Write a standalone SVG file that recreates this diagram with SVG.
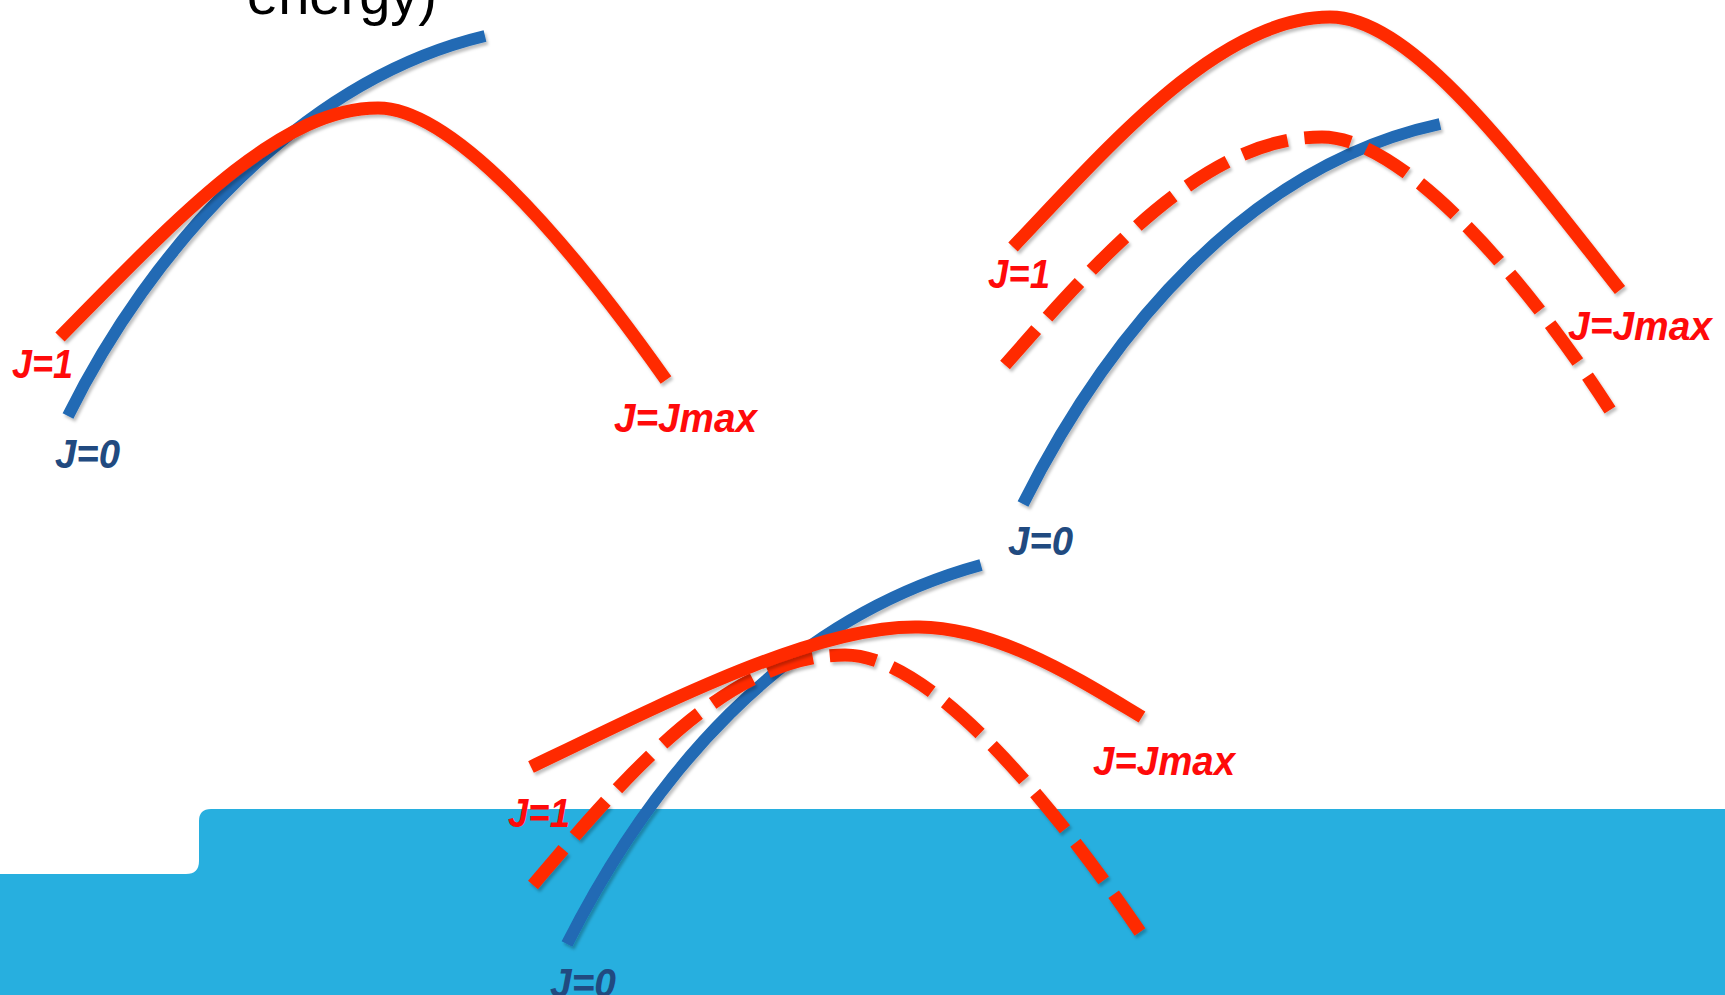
<svg xmlns="http://www.w3.org/2000/svg" width="1725" height="995" viewBox="0 0 1725 995">
<defs>
<filter id="sh" x="-10%" y="-10%" width="120%" height="120%">
<feDropShadow dx="2" dy="3" stdDeviation="1.5" flood-color="#000" flood-opacity="0.25"/>
</filter>
<style>
.blue{fill:none;stroke:#206AB4;stroke-width:12;stroke-linecap:butt;filter:url(#sh)}
.red{fill:none;stroke:#FF2A00;stroke-width:13;stroke-linecap:butt;filter:url(#sh)}
.dash{stroke-dasharray:47 17}
.lbl{font-family:"Liberation Sans",Arial,sans-serif;font-weight:bold;font-style:italic;font-size:40px}
.r{fill:#FF0A0A}
.b{fill:#214A80}
</style>
</defs>
<rect width="1725" height="995" fill="#FFFFFF"/>
<path id="band" d="M0,874 H186 Q199,874 199,861 V821 Q199,809 211,809 H1725 V995 H0 Z" fill="#27AFDF"/>
<text id="title" x="247" y="14" font-family="Liberation Sans,Arial,sans-serif" font-size="56" fill="#000" textLength="190" lengthAdjust="spacingAndGlyphs">energy)</text>
<g id="curves">
<g id="panel-top-left">
<path class="blue" d="M68,416 C150,250 300,80 485,36"/>
<path class="red" d="M60,337 C180,215 280,108 378,108 C450,108 560,230 666,380"/>
</g>
<g id="panel-top-right">
<path class="blue" d="M1023,504 C1110,330 1250,165 1440,124"/>
<path class="red dash" d="M1005,365 C1110,245 1210,137 1322,137 C1400,137 1520,270 1610,410"/>
<path class="red" d="M1013,247 C1110,145 1220,17 1330,17 C1410,17 1510,150 1620,290"/>
</g>
<g id="panel-bottom">
<path class="blue" d="M567,944 C650,780 780,620 981,565"/>
<path class="red dash" d="M533,885 C630,770 730,655 845,655 C930,655 1050,800 1140,932"/>
<path class="red" d="M531,767 C680,695 820,625 919,627 C1000,628 1080,680 1142,717"/>
</g>
</g>
<g id="labels-top-left">
<text class="lbl r" x="12" y="378" textLength="61" lengthAdjust="spacingAndGlyphs">J=1</text>
<text class="lbl b" x="55" y="468" textLength="65" lengthAdjust="spacingAndGlyphs">J=0</text>
<text class="lbl r" x="614" y="432" textLength="143" lengthAdjust="spacingAndGlyphs">J=Jmax</text>
</g>
<g id="labels-top-right">
<text class="lbl r" x="988" y="288" textLength="62" lengthAdjust="spacingAndGlyphs">J=1</text>
<text class="lbl r" x="1568" y="340" textLength="144" lengthAdjust="spacingAndGlyphs">J=Jmax</text>
<text class="lbl b" x="1008" y="555" textLength="65" lengthAdjust="spacingAndGlyphs">J=0</text>
</g>
<g id="labels-bottom">
<text class="lbl r" x="508" y="827" textLength="62" lengthAdjust="spacingAndGlyphs">J=1</text>
<text class="lbl r" x="1093" y="775" textLength="142" lengthAdjust="spacingAndGlyphs">J=Jmax</text>
<text class="lbl b" x="550" y="997" textLength="66" lengthAdjust="spacingAndGlyphs">J=0</text>
</g>
</svg>
